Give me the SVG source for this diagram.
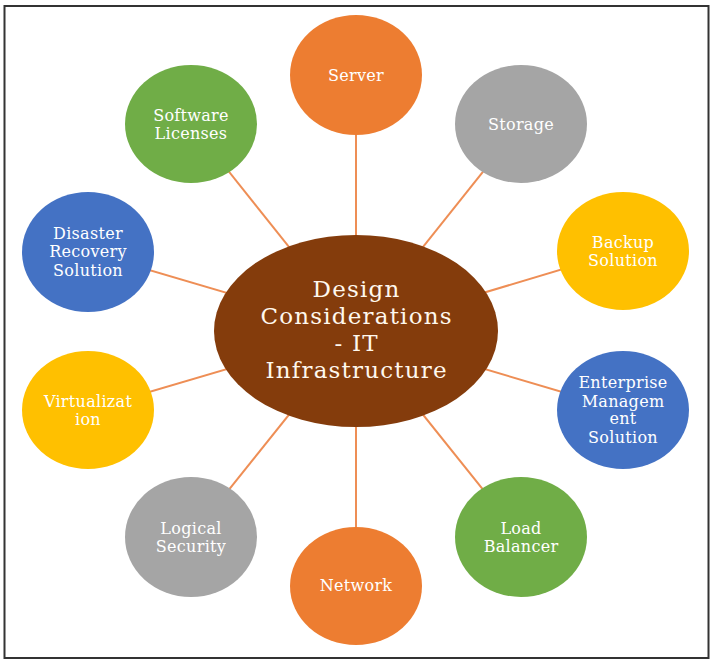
<svg xmlns="http://www.w3.org/2000/svg" width="713" height="664" viewBox="0 0 713 664">
<style>
.lbl{font-family:"DejaVu Serif","Liberation Serif",serif;font-size:16px;letter-spacing:0.3px;fill:#FFFFFF;text-anchor:middle}
.big{font-family:"DejaVu Serif","Liberation Serif",serif;font-size:23px;letter-spacing:1.2px;fill:#FFF8EE;text-anchor:middle}
.conn line{stroke:#EE8E55;stroke-width:2}
.orange{fill:#ED7D31}.gray{fill:#A5A5A5}.yellow{fill:#FFC000}.blue{fill:#4472C4}.green{fill:#70AD47}
</style>
<rect x="0" y="0" width="713" height="664" fill="#FFFFFF"/>
<rect x="4.5" y="6" width="704" height="652" fill="none" stroke="#333333" stroke-width="2"/>
<g id="connectors" class="conn">
<line x1="356" y1="331" x2="356" y2="75"/>
<line x1="356" y1="331" x2="521" y2="124"/>
<line x1="356" y1="331" x2="623" y2="251"/>
<line x1="356" y1="331" x2="623" y2="410"/>
<line x1="356" y1="331" x2="521" y2="537"/>
<line x1="356" y1="331" x2="356" y2="586"/>
<line x1="356" y1="331" x2="191" y2="537"/>
<line x1="356" y1="331" x2="88" y2="410"/>
<line x1="356" y1="331" x2="88" y2="252"/>
<line x1="356" y1="331" x2="191" y2="124"/>
</g>
<g id="center">
<ellipse cx="356" cy="331" rx="142" ry="96" fill="#843C0C"/>
<text class="big" x="356.6" y="297">Design</text>
<text class="big" x="356.6" y="324">Considerations</text>
<text class="big" x="356.6" y="351">- IT</text>
<text class="big" x="356.6" y="378">Infrastructure</text>
</g>
<g id="server">
<ellipse class="orange" cx="356" cy="75" rx="66" ry="60"/>
<text class="lbl" x="356" y="80.5">Server</text>
</g>
<g id="storage">
<ellipse class="gray" cx="521" cy="124" rx="66" ry="59"/>
<text class="lbl" x="521" y="129.5">Storage</text>
</g>
<g id="backup">
<ellipse class="yellow" cx="623" cy="251" rx="66" ry="59"/>
<text class="lbl" x="623" y="247.5">Backup</text>
<text class="lbl" x="623" y="266">Solution</text>
</g>
<g id="enterprise">
<ellipse class="blue" cx="623" cy="410" rx="66" ry="59"/>
<text class="lbl" x="623" y="388">Enterprise</text>
<text class="lbl" x="623" y="406.5">Managem</text>
<text class="lbl" x="623" y="424">ent</text>
<text class="lbl" x="623" y="442.5">Solution</text>
</g>
<g id="loadbalancer">
<ellipse class="green" cx="521" cy="537" rx="66" ry="60"/>
<text class="lbl" x="521" y="533.5">Load</text>
<text class="lbl" x="521" y="552">Balancer</text>
</g>
<g id="network">
<ellipse class="orange" cx="356" cy="586" rx="66" ry="59"/>
<text class="lbl" x="356" y="591">Network</text>
</g>
<g id="logicalsecurity">
<ellipse class="gray" cx="191" cy="537" rx="66" ry="60"/>
<text class="lbl" x="191" y="533.5">Logical</text>
<text class="lbl" x="191" y="552">Security</text>
</g>
<g id="virtualization">
<ellipse class="yellow" cx="88" cy="410" rx="66" ry="59"/>
<text class="lbl" x="88" y="406.5">Virtualizat</text>
<text class="lbl" x="88" y="425">ion</text>
</g>
<g id="disaster">
<ellipse class="blue" cx="88" cy="252" rx="66" ry="60"/>
<text class="lbl" x="88" y="238.5">Disaster</text>
<text class="lbl" x="88" y="257">Recovery</text>
<text class="lbl" x="88" y="275.5">Solution</text>
</g>
<g id="software">
<ellipse class="green" cx="191" cy="124" rx="66" ry="59"/>
<text class="lbl" x="191" y="120.5">Software</text>
<text class="lbl" x="191" y="139">Licenses</text>
</g>
</svg>
